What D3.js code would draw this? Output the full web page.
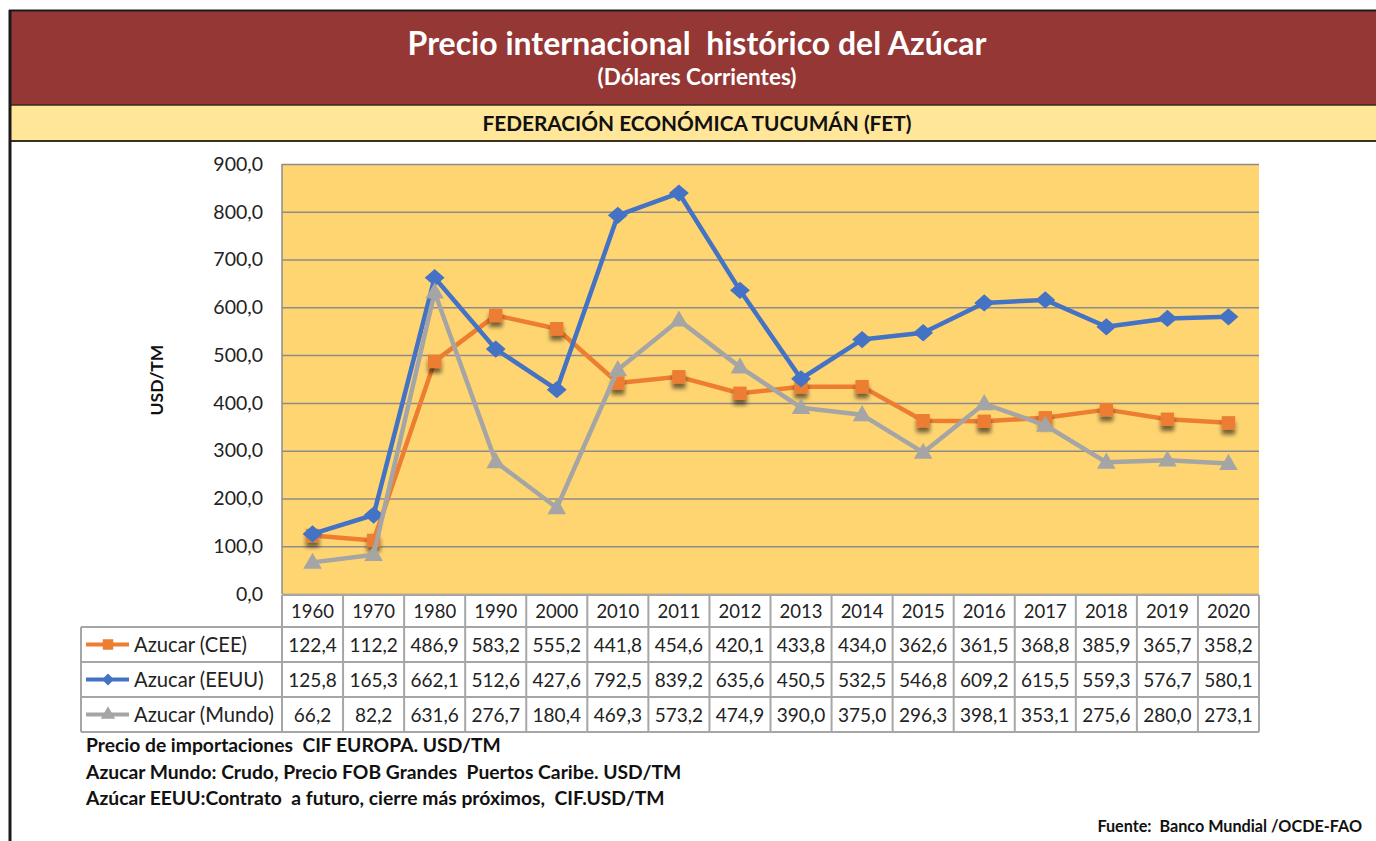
<!DOCTYPE html>
<html>
<head>
<meta charset="utf-8">
<script src="https://cdn.jsdelivr.net/npm/d3@7"></script>
<style>
  html, body { margin: 0; padding: 0; background: #fff; }
  svg { display: block; font-family: Lato, "Open Sans", sans-serif; }
</style>
</head>
<body>
<svg id="chart" width="1376" height="841"></svg>
<script>
// Years on the category axis
const years = ["1960","1970","1980","1990","2000","2010","2011","2012","2013","2014","2015","2016","2017","2018","2019","2020"];

// Series values, USD per metric ton (current dollars)
const azucarCEE   = [122.4,112.2,486.9,583.2,555.2,441.8,454.6,420.1,433.8,434.0,362.6,361.5,368.8,385.9,365.7,358.2];
const azucarEEUU  = [125.8,165.3,662.1,512.6,427.6,792.5,839.2,635.6,450.5,532.5,546.8,609.2,615.5,559.3,576.7,580.1];
const azucarMundo = [66.2,82.2,631.6,276.7,180.4,469.3,573.2,474.9,390.0,375.0,296.3,398.1,353.1,275.6,280.0,273.1];

const seriesNames = ["Azucar (CEE)", "Azucar (EEUU)", "Azucar (Mundo)"];
const yTicks = [0,100,200,300,400,500,600,700,800,900];

const notes = [
  "Precio de importaciones  CIF EUROPA. USD/TM",
  "Azucar Mundo: Crudo, Precio FOB Grandes  Puertos Caribe. USD/TM",
  "Azúcar EEUU:Contrato  a futuro, cierre más próximos,  CIF.USD/TM"
];

const series = [
  { name: seriesNames[0], values: azucarCEE,   color: "#ED7D31", marker: "square",   shadow: true },
  { name: seriesNames[1], values: azucarEEUU,  color: "#4472C4", marker: "diamond",  shadow: false },
  { name: seriesNames[2], values: azucarMundo, color: "#A5A5A5", marker: "triangle", shadow: false }
];

const svg = d3.select("#chart");
const W = 1376;
const fmt = v => d3.format(".1f")(v).replace(".", ",");

// Shadow filter for square markers
const defs = svg.append("defs");
const f = defs.append("filter").attr("id", "mshadow").attr("x", "-50%").attr("y", "-50%").attr("width", "200%").attr("height", "220%");
f.append("feGaussianBlur").attr("in", "SourceAlpha").attr("stdDeviation", 2.2).attr("result", "b");
f.append("feOffset").attr("in", "b").attr("dx", 0).attr("dy", 5).attr("result", "o");
f.append("feComponentTransfer").attr("in", "o").attr("result", "s")
  .append("feFuncA").attr("type", "linear").attr("slope", 0.55);
const fm = f.append("feMerge");
fm.append("feMergeNode").attr("in", "s");
fm.append("feMergeNode").attr("in", "SourceGraphic");

// Header bands
svg.append("rect").attr("x", 10).attr("y", 11).attr("width", W - 10).attr("height", 94).attr("fill", "#953735");
svg.append("rect").attr("x", 10).attr("y", 105).attr("width", W - 10).attr("height", 36).attr("fill", "#FFE699");
svg.append("line").attr("x1", 9).attr("x2", W).attr("y1", 10.5).attr("y2", 10.5).attr("stroke", "#1a1a1a").attr("stroke-width", 2);
svg.append("line").attr("x1", 9).attr("x2", W).attr("y1", 105).attr("y2", 105).attr("stroke", "#3a2a1a").attr("stroke-width", 1.5);
svg.append("line").attr("x1", 9).attr("x2", W).attr("y1", 141).attr("y2", 141).attr("stroke", "#3a3020").attr("stroke-width", 2);
svg.append("line").attr("x1", 10).attr("x2", 10).attr("y1", 10).attr("y2", 841).attr("stroke", "#1a1a1a").attr("stroke-width", 3);

svg.append("text").attr("x", 697).attr("y", 55).attr("text-anchor", "middle")
  .attr("fill", "#fff").attr("font-size", 32).attr("font-weight", 700)
  .attr("xml:space", "preserve")
  .text("Precio internacional  histórico del Azúcar");
svg.append("text").attr("x", 697).attr("y", 85).attr("text-anchor", "middle")
  .attr("fill", "#fff").attr("font-size", 22.5).attr("font-weight", 700)
  .text("(Dólares Corrientes)");
svg.append("text").attr("x", 697).attr("y", 131).attr("text-anchor", "middle")
  .attr("fill", "#111").attr("font-size", 20.8).attr("font-weight", 700)
  .text("FEDERACIÓN ECONÓMICA TUCUMÁN (FET)");

// Plot area
const plotL = 282, plotR = 1259, plotT = 164, plotB = 594;
const x = d3.scaleBand().domain(years).range([plotL, plotR]).padding(0);
const y = d3.scaleLinear().domain([0, 900]).range([plotB, plotT]);

svg.append("rect").attr("x", plotL).attr("y", plotT).attr("width", plotR - plotL).attr("height", plotB - plotT)
  .attr("fill", "#FFD572");

// Gridlines and y labels
const yAxis = d3.axisLeft(y).tickValues(yTicks).tickSize(-(plotR - plotL)).tickPadding(19).tickFormat(fmt);
const gy = svg.append("g").attr("transform", `translate(${plotL},0)`).call(yAxis);
gy.select(".domain").remove();
gy.selectAll(".tick line").attr("stroke", "#8c8c8c").attr("stroke-width", 1.5);
gy.selectAll(".tick text").attr("font-size", 19.5).attr("fill", "#222").attr("font-family", "Lato, sans-serif");
svg.append("line").attr("x1", plotL).attr("x2", plotL).attr("y1", plotT).attr("y2", plotB).attr("stroke", "#8c8c8c").attr("stroke-width", 1.5);

svg.append("text").attr("transform", `translate(163,380) rotate(-90)`).attr("text-anchor", "middle")
  .attr("font-size", 17.5).attr("font-weight", 700).attr("fill", "#111").text("USD/TM");

// Marker shapes
const symbolFor = {
  square: d3.symbol().type(d3.symbolSquare).size(180),
  diamond: d3.symbol().type(d3.symbolDiamond2).size(190),
  triangle: d3.symbol().type(d3.symbolTriangle).size(150)
};

const line = d3.line().x((d, i) => x(years[i]) + x.bandwidth() / 2).y(d => y(d));

series.forEach(s => {
  const g = svg.append("g");
  g.append("path").datum(s.values).attr("d", line).attr("fill", "none")
    .attr("stroke", s.color).attr("stroke-width", 4.5).attr("stroke-linejoin", "round");
  const m = g.selectAll("path.m").data(s.values).enter().append("path").attr("class", "m")
    .attr("d", symbolFor[s.marker])
    .attr("transform", (d, i) => {
      const yy = y(d) + (s.marker === "triangle" ? 1 : 0);
      const extra = s.marker === "diamond" ? " scale(1.15,1)" : "";
      return `translate(${x(years[i]) + x.bandwidth() / 2},${yy})${extra}`;
    })
    .attr("fill", s.color);
  if (s.shadow) m.attr("filter", "url(#mshadow)");
});

// Data table
const tBorder = "#a6a6a6";
const rowTop = 595, headerH = 32, rowH = 35;
const tg = svg.append("g");
const rowsY = [rowTop + headerH, rowTop + headerH + rowH, rowTop + headerH + 2 * rowH, rowTop + headerH + 3 * rowH];

tg.append("rect").attr("x", plotL).attr("y", rowTop).attr("width", plotR - plotL).attr("height", rowsY[3] - rowTop)
  .attr("fill", "#fff");
tg.append("rect").attr("x", 81).attr("y", rowsY[0]).attr("width", plotL - 81).attr("height", rowsY[3] - rowsY[0])
  .attr("fill", "#fff");

// horizontal rules
tg.append("line").attr("x1", plotL).attr("x2", plotR).attr("y1", rowTop).attr("y2", rowTop).attr("stroke", tBorder).attr("stroke-width", 2);
rowsY.forEach(yy => {
  tg.append("line").attr("x1", 81).attr("x2", plotR).attr("y1", yy).attr("y2", yy).attr("stroke", tBorder).attr("stroke-width", 2);
});
// vertical rules
tg.append("line").attr("x1", 81).attr("x2", 81).attr("y1", rowsY[0]).attr("y2", rowsY[3]).attr("stroke", tBorder).attr("stroke-width", 2);
years.forEach(yr => {
  tg.append("line").attr("x1", x(yr)).attr("x2", x(yr)).attr("y1", rowTop).attr("y2", rowsY[3]).attr("stroke", tBorder).attr("stroke-width", 2);
});
tg.append("line").attr("x1", plotR).attr("x2", plotR).attr("y1", rowTop).attr("y2", rowsY[3]).attr("stroke", tBorder).attr("stroke-width", 2);

// header years
tg.selectAll("text.yr").data(years).enter().append("text").attr("class", "yr")
  .attr("x", d => x(d) + x.bandwidth() / 2).attr("y", rowTop + headerH / 2 + 7)
  .attr("text-anchor", "middle").attr("font-size", 18.5).attr("fill", "#222").text(d => d);

// value rows with legend keys
series.forEach((s, r) => {
  const cy = rowsY[r] + rowH / 2;
  tg.selectAll(null).data(s.values).enter().append("text")
    .attr("x", (d, i) => x(years[i]) + x.bandwidth() / 2).attr("y", cy + 7)
    .attr("text-anchor", "middle").attr("font-size", 19).attr("fill", "#222").text(d => fmt(d));
  tg.append("line").attr("x1", 86).attr("x2", 129).attr("y1", cy).attr("y2", cy)
    .attr("stroke", s.color).attr("stroke-width", 4);
  const sym = s.marker === "square" ? d3.symbol().type(d3.symbolSquare).size(110)
            : s.marker === "diamond" ? d3.symbol().type(d3.symbolDiamond2).size(90)
            : d3.symbol().type(d3.symbolTriangle).size(90);
  tg.append("path").attr("d", sym).attr("transform", `translate(108,${cy})`).attr("fill", s.color);
  tg.append("text").attr("x", 134).attr("y", cy + 7).attr("font-size", 20.2).attr("fill", "#222").text(s.name);
});

// Notes
svg.selectAll("text.note").data(notes).enter().append("text").attr("class", "note")
  .attr("x", 86).attr("y", (d, i) => 752 + i * 26.5)
  .attr("font-size", 19.3).attr("font-weight", 700).attr("fill", "#111")
  .attr("xml:space", "preserve").text(d => d);

svg.append("text").attr("x", 1362).attr("y", 832).attr("text-anchor", "end")
  .attr("font-size", 16.2).attr("font-weight", 700).attr("fill", "#111")
  .attr("xml:space", "preserve").text("Fuente:  Banco Mundial /OCDE-FAO");
</script>
</body>
</html>
